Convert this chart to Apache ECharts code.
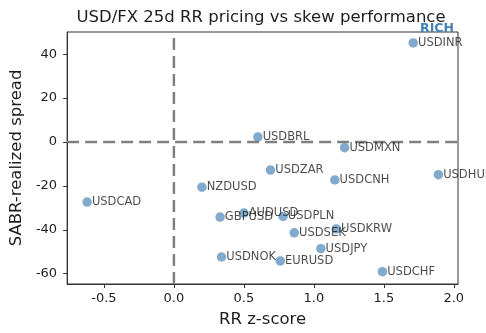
<!DOCTYPE html>
<html>
<head>
<meta charset="utf-8">
<script src="https://cdn.jsdelivr.net/npm/echarts@6/dist/echarts.min.js"></script>
<style>html,body{margin:0;padding:0;background:#fff;}#c{width:486px;height:333px;}</style>
</head>
<body>
<div id="c"></div>
<script>
const pairs = ['USDINR','USDBRL','USDMXN','USDZAR','USDCNH','USDHUF','USDCAD','NZDUSD','GBPUSD','AUDUSD','USDPLN','USDSEK','USDKRW','USDJPY','USDNOK','EURUSD','USDCHF'];
const rrZ    = [1.71, 0.60, 1.22, 0.69, 1.15, 1.89, -0.62, 0.20, 0.33, 0.50, 0.78, 0.86, 1.16, 1.05, 0.34, 0.76, 1.49];
const spread = [45.1, 2.3, -2.6, -12.8, -17.3, -14.9, -27.4, -20.6, -34.2, -32.4, -33.9, -41.4, -39.6, -48.6, -52.4, -54.2, -59.1];
const xTicks = [-0.5, 0.0, 0.5, 1.0, 1.5, 2.0];
const yTicks = [-60, -40, -20, 0, 20, 40];
const xRange = [-0.763, 2.03];
const yRange = [-64.7, 50.1];

const font = 'DejaVu Sans';
const txt = '#1e1e1e';
const data = pairs.map((p, i) => ({ value: [rrZ[i], spread[i]], name: p }));
const refStyle = { color: '#808080', width: 2.5, type: [12, 6] };

const chart = echarts.init(document.getElementById('c'), null, { renderer: 'canvas' });
chart.setOption({
  animation: false,
  backgroundColor: '#fff',
  grid: { left: 64, right: 28, top: 32, bottom: 46, show: true, borderColor: '#333', borderWidth: 1, backgroundColor: 'transparent' },
  xAxis: {
    type: 'value', min: xRange[0], max: xRange[1],
    name: 'RR z-score', nameLocation: 'middle', nameGap: 27,
    nameTextStyle: { fontFamily: font, fontSize: 16.5, color: txt },
    axisLine: { show: true, onZero: false, lineStyle: { color: '#333', width: 1 } },
    axisTick: { show: true, length: 4, customValues: xTicks, lineStyle: { color: '#333' } },
    axisLabel: { customValues: xTicks, margin: 8, fontFamily: font, fontSize: 13, color: txt,
      formatter: v => v.toFixed(1) },
    splitLine: { show: false }
  },
  yAxis: {
    type: 'value', min: yRange[0], max: yRange[1],
    name: 'SABR-realized spread', nameLocation: 'middle', nameGap: 31, nameRotate: 90,
    nameTextStyle: { fontFamily: font, fontSize: 16.5, color: txt },
    axisLine: { show: true, onZero: false, lineStyle: { color: '#333', width: 1 } },
    axisTick: { show: true, length: 4, customValues: yTicks, lineStyle: { color: '#333' } },
    axisLabel: { customValues: yTicks, margin: 10, fontFamily: font, fontSize: 13, color: txt },
    splitLine: { show: false }
  },
  graphic: [
    { type: 'text', x: 261, y: 18, z: 10,
      style: { text: 'USD/FX 25d RR pricing vs skew performance', fill: txt, font: '16.5px "DejaVu Sans"', align: 'center', verticalAlign: 'middle' } },
    { type: 'text', x: 437, y: 29, z: 1,
      style: { text: 'RICH', fill: '#4682b4', font: 'bold 12.5px "DejaVu Sans"', align: 'center', verticalAlign: 'middle' } }
  ],
  series: [
    { type: 'line', data: [[0, yRange[0]], [0, yRange[1]]], symbol: 'none', silent: true, lineStyle: refStyle, z: 1 },
    { type: 'line', data: [[xRange[0], 0], [xRange[1], 0]], symbol: 'none', silent: true, lineStyle: refStyle, z: 1 },
    {
      type: 'scatter',
      data: data,
      symbolSize: 9.5,
      itemStyle: { color: 'rgba(70,130,180,0.85)' },
      label: {
        show: true, position: 'right', distance: 0, offset: [0, -4],
        formatter: p => p.name,
        fontFamily: font, fontSize: 11.5, color: txt
      },
      labelLayout: { hideOverlap: false },
      z: 3
    }
  ]
});
</script>
</body>
</html>
